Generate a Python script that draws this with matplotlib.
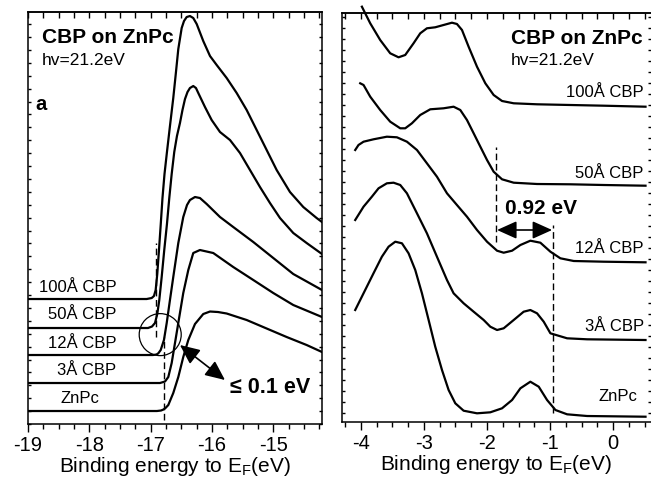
import matplotlib
matplotlib.use('Agg')
import matplotlib.pyplot as plt
from matplotlib.ticker import MultipleLocator
from matplotlib.patches import Ellipse

plt.rcParams['font.family'] = ['Liberation Sans', 'DejaVu Sans']
plt.rcParams['mathtext.fontset'] = 'custom'
plt.rcParams['mathtext.rm'] = 'Liberation Sans'
plt.rcParams['axes.unicode_minus'] = False

# ---------------- Left panel: secondary-electron cutoff ----------------
cut_100_x = [-19.0, -17.065, -16.983, -16.946, -16.918, -16.892, -16.864, -16.836, -16.807, -16.774,
             -16.734, -16.685, -16.631, -16.587, -16.549, -16.494, -16.456, -16.412, -16.359, -16.305,
             -16.249, -16.142, -16.032, -15.923, -15.760, -15.597, -15.434, -15.271, -15.108, -14.945,
             -14.728, -14.511, -14.293, -14.206]
cut_100_y = [125, 125, 126, 128, 134, 150, 174, 199, 226, 250,
             272, 298, 326, 352, 375, 396, 403, 407, 408, 406,
             400, 383, 368, 359, 346, 331, 314, 294, 274, 254,
             232, 217, 206, 202]

cut_50_x = [-19.0, -17.043, -16.978, -16.929, -16.892, -16.859, -16.820, -16.778, -16.734, -16.696,
            -16.657, -16.615, -16.571, -16.522, -16.481, -16.440, -16.399, -16.359, -16.305, -16.261,
            -16.223, -16.114, -16.005, -15.869, -15.706, -15.543, -15.380, -15.217, -15.054, -14.891,
            -14.674, -14.456, -14.206]
cut_50_y = [96, 96, 97.5, 101, 110, 124, 147, 174, 200, 226,
            250, 272, 288, 301, 314, 325, 332, 336, 338, 336,
            331, 317, 304, 292, 284, 271, 254, 237, 221, 206,
            191, 181, 170]

cut_12_x = [-19.0, -16.962, -16.905, -16.875, -16.836, -16.783, -16.738, -16.685, -16.631, -16.549,
            -16.468, -16.407, -16.359, -16.277, -16.196, -16.086, -15.869, -15.653, -15.326, -15.000,
            -14.674, -14.206]
cut_12_y = [69, 69, 69.5, 70.7, 74, 84, 101, 124, 147, 181,
            207, 219, 224, 227, 226, 220, 207, 197, 182, 166,
            150, 134]

cut_3_x = [-19.0, -16.848, -16.766, -16.712, -16.657, -16.603, -16.533, -16.468, -16.386, -16.305,
           -16.196, -15.979, -15.653, -15.326, -15.000, -14.674, -14.206]
cut_3_y = [41, 41, 42.5, 47, 61, 81, 107, 131, 154, 171,
           174, 171, 157, 144, 131, 119, 107]

cut_znpc_x = [-19.0, -16.897, -16.831, -16.791, -16.758, -16.712, -16.631, -16.549, -16.468, -16.386,
              -16.277, -16.142, -16.032, -15.902, -15.760, -15.434, -15.108, -14.782, -14.456, -14.206]
cut_znpc_y = [13, 13, 13.5, 14.5, 16, 19, 31, 47, 67, 84,
              100, 110, 112.5, 112, 110.5, 104, 95.5, 87, 79, 72]

left_labels = ['100Å CBP', '50Å CBP', '12Å CBP', '3Å CBP', 'ZnPc']
left_label_x = [-18.816, -18.669, -18.669, -18.522, -18.467]
left_label_y = [132, 105, 76, 49, 21]

onset_upper = -16.915
onset_lower = -16.778

# ---------------- Right panel: valence region ----------------
val_100_x = [-3.984, -3.852, -3.694, -3.535, -3.403, -3.297, -3.165, -3.059, -2.953, -2.821,
             -2.689, -2.556, -2.477, -2.397, -2.292, -2.159, -2.027, -1.895, -1.762, -1.577,
             -1.207, -0.678, -0.149, 0.513]
val_100_y = [417.3, 400.7, 384, 370.7, 366.7, 369, 380.7, 390.7, 395.7, 396.7,
             399, 401.3, 400, 394, 377.3, 357.3, 340.7, 329, 323, 320.7,
             319.7, 319, 318.3, 317.3]

val_50_x = [-4.011, -3.958, -3.852, -3.694, -3.535, -3.376, -3.297, -3.191, -3.059, -2.900,
            -2.689, -2.530, -2.424, -2.318, -2.212, -2.106, -2.000, -1.895, -1.762, -1.577,
            -1.207, -0.678, -0.149, 0.513]
val_50_y = [340.7, 339, 327.3, 314, 302.3, 295.7, 295.7, 300.7, 309, 314.7,
            315.7, 317.3, 314, 304, 290.7, 277.3, 264, 252.3, 244.7, 241.3,
            240, 239.7, 239, 238.3]

val_12_x = [-4.090, -4.038, -3.958, -3.800, -3.588, -3.429, -3.270, -3.111, -2.953, -2.794,
            -2.635, -2.477, -2.318, -2.159, -2.000, -1.841, -1.736, -1.603, -1.471, -1.313,
            -1.154, -0.995, -0.837, -0.625, -0.149, 0.513]
val_12_y = [274, 279, 282.3, 284.7, 287.3, 286.7, 282.3, 274, 260.7, 247.3,
            230.7, 219, 207.3, 194, 182.3, 173.3, 171.3, 173.3, 179, 183.3,
            181.3, 172.3, 165.7, 163, 162.3, 161.7]

val_3_x = [-4.090, -3.958, -3.826, -3.720, -3.588, -3.482, -3.376, -3.270, -3.111, -2.953,
           -2.794, -2.635, -2.530, -2.371, -2.212, -2.053, -1.948, -1.841, -1.736, -1.577,
           -1.419, -1.313, -1.207, -1.101, -0.995, -0.730, -0.413, 0.513]
val_3_y = [204, 217.3, 227.3, 235.7, 240.7, 241.3, 239, 230.7, 210.7, 190.7,
           167.3, 144, 130.7, 120.7, 112.3, 104, 97.3, 94, 95.7, 104,
           112.3, 114, 110.7, 102.3, 90.7, 85.7, 84.7, 84]

val_znpc_x = [-4.090, -3.958, -3.800, -3.667, -3.561, -3.455, -3.349, -3.244, -3.138, -3.032,
              -2.926, -2.821, -2.714, -2.609, -2.503, -2.371, -2.159, -1.948, -1.762, -1.603,
              -1.471, -1.313, -1.180, -1.048, -0.915, -0.730, -0.413, 0.513]
val_znpc_y = [114, 130.7, 150.7, 167.3, 177.3, 182.3, 180.7, 170.7, 154, 130.7,
              104, 77.3, 54, 34, 20.7, 13.3, 10.7, 11.7, 15.7, 24,
              35.7, 42.3, 37.3, 24, 14, 9.7, 8, 7.3]

right_labels = ['100Å CBP', '50Å CBP', '12Å CBP', '3Å CBP', 'ZnPc']
right_label_x = [0.487, 0.487, 0.487, 0.487, 0.381]
right_label_y = [327, 246, 171.5, 93, 23]

homo_onset_cbp = -1.857
homo_onset_znpc = -0.948

LW = 1.6
DASH = (0, (4.8, 2.6))

fig = plt.figure(figsize=(6.51, 4.79), dpi=100)
axL = fig.add_axes([0.0430, 0.1148, 0.4516, 0.8601])
axR = fig.add_axes([0.5253, 0.1196, 0.4747, 0.8539])


def style(ax, ystep):
    for s in ax.spines.values():
        s.set_linewidth(1.1)
    ax.xaxis.set_major_locator(MultipleLocator(1))
    ax.xaxis.set_minor_locator(MultipleLocator(0.25))
    ax.tick_params(axis='x', which='major', direction='out', length=5.5, width=1,
                   labelsize=14.5, pad=3)
    ax.tick_params(axis='x', which='minor', direction='out', length=3.5, width=1)
    ax.yaxis.set_major_locator(MultipleLocator(ystep))
    ax.tick_params(axis='y', which='major', direction='in', length=2.5, width=1,
                   left=True, right=True, labelleft=False)
    sec = ax.secondary_xaxis('top')
    sec.xaxis.set_major_locator(MultipleLocator(1))
    sec.xaxis.set_minor_locator(MultipleLocator(0.25))
    sec.tick_params(which='both', direction='in', length=4, width=1, labeltop=False)
    sec.spines['top'].set_linewidth(1.1)
    ax.set_xlabel('Binding energy to E$_{\\mathrm{F}}$(eV)', fontsize=15, labelpad=0)


# Left panel
axL.set_xlim(-19, -14.206)
axL.set_ylim(0, 412)
for xs, ys in [(cut_100_x, cut_100_y), (cut_50_x, cut_50_y), (cut_12_x, cut_12_y),
               (cut_3_x, cut_3_y), (cut_znpc_x, cut_znpc_y)]:
    axL.plot(xs, ys, color='black', lw=LW, solid_joinstyle='round')
axL.plot([onset_upper, onset_upper], [87, 181], color='black', lw=1.0, ls=DASH)
axL.plot([onset_lower, onset_lower], [4, 87], color='black', lw=1.0, ls=DASH)
axL.add_patch(Ellipse((-16.844, 89.4), 0.685, 42, fill=False, lw=0.9, ec='black'))
axL.annotate('', xy=(-15.788, 44), xytext=(-16.522, 79),
             arrowprops=dict(arrowstyle='<|-|>,head_length=0.4,head_width=0.18',
                             mutation_scale=30, lw=1.2, color='black',
                             shrinkA=0, shrinkB=0))
axL.text(-15.706, 31.3, '≤ 0.1 eV', fontsize=15.5, fontweight='bold', va='baseline')
axL.text(-18.777, 380.7, 'CBP on ZnPc', fontsize=15, fontweight='bold', va='baseline')
axL.text(-18.777, 359, 'hv=21.2eV', fontsize=12.5, va='baseline')
axL.text(-18.886, 314, 'a', fontsize=14.5, fontweight='bold', va='baseline')
for lab, lx, ly in zip(left_labels, left_label_x, left_label_y):
    axL.text(lx, ly, lab, fontsize=12, va='baseline')
style(axL, 12.9)

# Right panel
axR.set_xlim(-4.3, 0.6)
axR.set_ylim(2.3, 411.3)
axR.spines['right'].set_visible(False)
for xs, ys in [(val_100_x, val_100_y), (val_50_x, val_50_y), (val_12_x, val_12_y),
               (val_3_x, val_3_y), (val_znpc_x, val_znpc_y)]:
    axR.plot(xs, ys, color='black', lw=LW, solid_joinstyle='round', clip_on=False)
axR.plot([homo_onset_cbp, homo_onset_cbp], [182.3, 277.3], color='black', lw=1.0, ls=DASH)
axR.plot([homo_onset_znpc, homo_onset_znpc], [10.7, 199], color='black', lw=1.0, ls=DASH)
axR.annotate('', xy=(-0.968, 194), xytext=(-1.841, 194),
             arrowprops=dict(arrowstyle='<|-|>,head_length=0.4,head_width=0.18',
                             mutation_scale=30, lw=1.2, color='black',
                             shrinkA=0, shrinkB=0))
axR.text(-1.710, 210, '0.92 eV', fontsize=15, fontweight='bold', va='baseline')
axR.text(-1.619, 379.7, 'CBP on ZnPc', fontsize=15, fontweight='bold', va='baseline')
axR.text(-1.619, 359, 'hv=21.2eV', fontsize=12.5, va='baseline')
for lab, lx, ly in zip(right_labels, right_label_x, right_label_y):
    axR.text(lx, ly, lab, fontsize=12, va='baseline', ha='right')
style(axR, 11)

fig.savefig('out.png', dpi=100)
